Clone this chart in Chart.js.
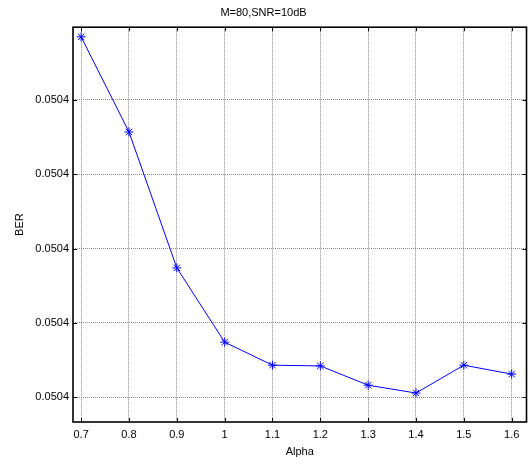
<!DOCTYPE html>
<html>
<head>
<meta charset="utf-8">
<script src="https://cdn.jsdelivr.net/npm/chart.js@4.4.0/dist/chart.umd.min.js"></script>
<style>
  html, body { margin: 0; padding: 0; background: #fff; }
  canvas { display: block; }
</style>
</head>
<body>
<canvas id="c" width="532" height="459"></canvas>
<script>
// data
const alpha = [0.7, 0.8, 0.9, 1.0, 1.1, 1.2, 1.3, 1.4, 1.5, 1.6]
const ber = [0.0504570, 0.0504314, 0.0503948, 0.0503748, 0.0503686, 0.0503684, 0.0503632, 0.0503611, 0.0503686, 0.0503662]

const xTicks = [0.7, 0.8, 0.9, 1.0, 1.1, 1.2, 1.3, 1.4, 1.5, 1.6]
const xTickLabels = ['0.7', '0.8', '0.9', '1', '1.1', '1.2', '1.3', '1.4', '1.5', '1.6']
const yTicks = [0.05036, 0.05038, 0.05040, 0.05042, 0.05044]

const FONT = 'Liberation Sans, Arial, sans-serif'

// matlab style box with inward tick marks
const boxPlugin = {
    id: 'box',
    afterDraw(chart) {
        const ctx = chart.ctx
        const a = chart.chartArea
        const xs = chart.scales.x
        const ys = chart.scales.y
        const len = 4
        ctx.save()
        ctx.strokeStyle = '#000'
        ctx.lineWidth = 1
        ctx.beginPath()
        xTicks.forEach(v => {
            const px = Math.round(xs.getPixelForValue(v)) + 0.5
            ctx.moveTo(px, a.bottom); ctx.lineTo(px, a.bottom - len)
            ctx.moveTo(px, a.top); ctx.lineTo(px, a.top + len)
        })
        yTicks.forEach(v => {
            const py = Math.round(ys.getPixelForValue(v)) + 0.5
            ctx.moveTo(a.left, py); ctx.lineTo(a.left + len, py)
            ctx.moveTo(a.right, py); ctx.lineTo(a.right - len, py)
        })
        ctx.stroke()
        ctx.lineWidth = 1.6
        ctx.strokeRect(a.left, a.top, a.right - a.left, a.bottom - a.top)
        ctx.restore()
    }
}

new Chart(document.getElementById('c'), {
    type: 'line',
    data: {
        datasets: [{
            data: alpha.map((x, i) => ({x: x, y: ber[i]})),
            borderColor: 'rgb(0, 0, 255)',
            backgroundColor: 'rgb(0, 0, 255)',
            borderWidth: 1,
            pointStyle: 'star',
            pointRadius: 4.5,
            pointBorderWidth: 1,
            pointBorderColor: 'rgb(0, 0, 255)',
            tension: 0,
            fill: false
        }]
    },
    options: {
        responsive: false,
        animation: false,
        layout: { padding: { left: 0, right: 5, top: 0, bottom: 0 } },
        plugins: {
            legend: { display: false },
            tooltip: { enabled: false },
            title: {
                display: true,
                text: 'M=80,SNR=10dB',
                color: '#000',
                font: { family: FONT, size: 11, weight: 'normal' },
                padding: { top: 6, bottom: 8 }
            }
        },
        scales: {
            x: {
                type: 'linear',
                min: 0.683,
                max: 1.631,
                afterBuildTicks: (scale) => { scale.ticks = xTicks.map(v => ({value: v})) },
                afterFit: (scale) => { scale.height = 37 },
                grid: { color: '#8a8a8a', lineWidth: 1, drawTicks: false },
                border: { display: false, dash: [1, 1] },
                ticks: {
                    color: '#000',
                    padding: 6,
                    maxRotation: 0,
                    autoSkip: false,
                    font: { family: FONT, size: 11 },
                    callback: (v, i) => xTickLabels[i]
                },
                title: {
                    display: true,
                    text: 'Alpha',
                    color: '#000',
                    font: { family: FONT, size: 11 },
                    padding: { top: 2, bottom: 0 }
                }
            },
            y: {
                type: 'linear',
                min: 0.0503533,
                max: 0.0504596,
                afterBuildTicks: (scale) => { scale.ticks = yTicks.map(v => ({value: v})) },
                afterFit: (scale) => { scale.width = 73 },
                grid: { color: '#8a8a8a', lineWidth: 1, drawTicks: false },
                border: { display: false, dash: [1, 1] },
                ticks: {
                    color: '#000',
                    padding: 4,
                    autoSkip: false,
                    font: { family: FONT, size: 11 },
                    callback: (v) => Number(v).toFixed(4)
                },
                title: {
                    display: true,
                    text: 'BER',
                    color: '#000',
                    font: { family: FONT, size: 11 },
                    padding: { top: 13, bottom: 0 }
                }
            }
        }
    },
    plugins: [boxPlugin]
})
</script>
</body>
</html>
